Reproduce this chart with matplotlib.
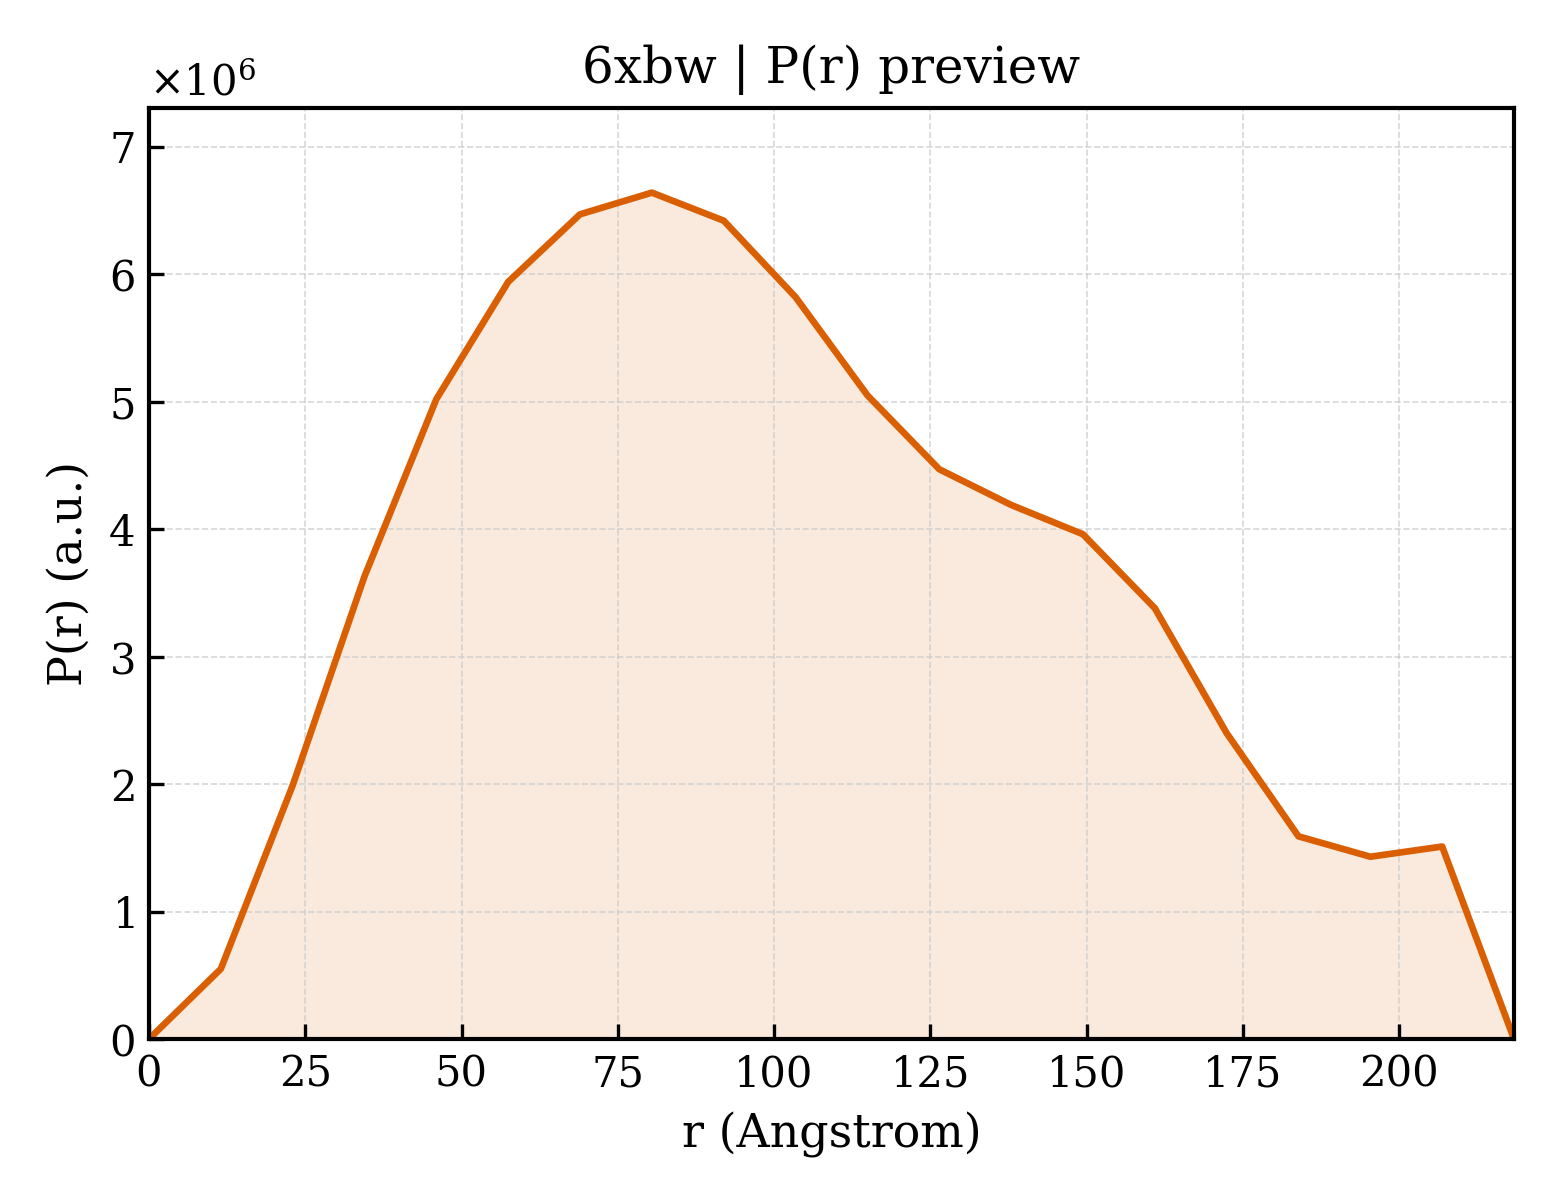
import numpy as np
import matplotlib
matplotlib.use("Agg")
import matplotlib.pyplot as plt

# P(r) preview values
r_max = 218.4
n_points = 20
pr_values = [0.0, 0.55, 1.99, 3.63, 5.02, 5.94, 6.47, 6.64, 6.42, 5.82,
             5.05, 4.47, 4.19, 3.96, 3.38, 2.40, 1.59, 1.43, 1.51, 0.0]
pr_scale = 1e6
title = "6xbw | P(r) preview"
x_label = "r (Angstrom)"
y_label = "P(r) (a.u.)"

plt.rcParams['font.family'] = 'DejaVu Serif'
plt.rcParams['mathtext.fontset'] = 'dejavuserif'

r = np.linspace(0, r_max, n_points)
pr = np.array(pr_values) * pr_scale

fig, ax = plt.subplots(figsize=(5.2, 4), dpi=300)
fig.subplots_adjust(left=149 / 1560, right=1514 / 1560, top=1 - 108 / 1200, bottom=1 - 1039 / 1200)

color = '#D95F02'
ax.fill_between(r, pr, 0, color=color, alpha=0.13, linewidth=0)
ax.plot(r, pr, color=color, linewidth=1.6)

ax.set_xlim(0, r_max)
ax.set_ylim(0, pr.max() * 1.1)
ax.ticklabel_format(axis='y', style='sci', scilimits=(0, 0), useMathText=True)
ax.tick_params(direction='in', labelsize=10)
ax.grid(True, linestyle='--', linewidth=0.4, color='#cccccc', alpha=0.8)
for s in ax.spines.values():
    s.set_linewidth(1.0)

ax.set_xlabel(x_label, fontsize=11)
ax.set_ylabel(y_label, fontsize=11)
ax.set_title(title, fontsize=12)

fig.savefig("out.png", dpi=300)
